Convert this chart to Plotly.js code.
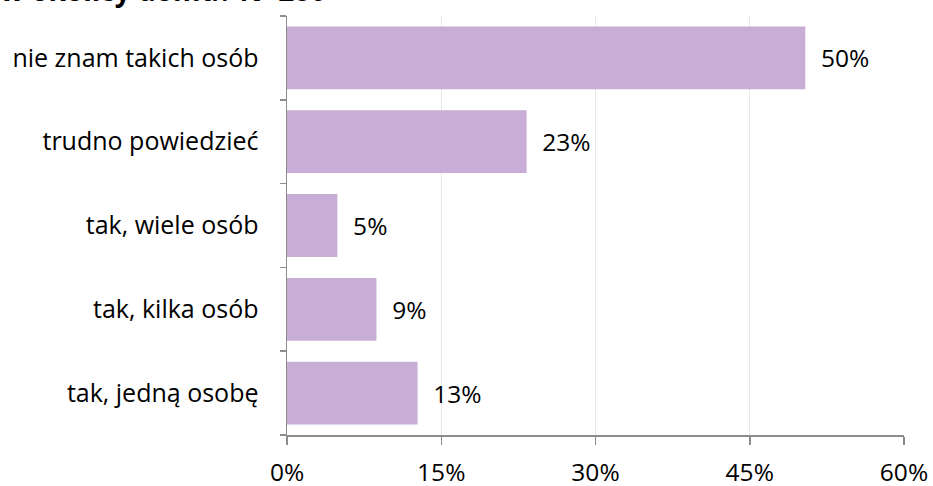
<!DOCTYPE html>
<html>
<head>
<meta charset="utf-8">
<script src="https://cdn.plot.ly/plotly-3.0.1.min.js"></script>
<style>html,body{margin:0;padding:0;background:#fff;}#chart{width:933px;height:486px;}</style>
</head>
<body>
<div id="chart"></div>
<script>
const categories = ["tak, jedną osobę", "tak, kilka osób", "tak, wiele osób", "trudno powiedzieć", "nie znam takich osób"];
const values = [12.7, 8.7, 4.9, 23.3, 50.4];
const labels = ["13%", "9%", "5%", "23%", "50%"];
const tickVals = [0, 15, 30, 45, 60];
const tickText = ["0%", "15%", "30%", "45%", "60%"];
const titleText = "w okolicy domu? N=280";

const FONT = "'Open Sans', sans-serif";
const FS = 24.5;

const trace = {
  type: "bar",
  orientation: "h",
  y: categories,
  x: values,
  marker: {color: "#c8aed6"},
  text: labels.map(t => "\u00a0\u00a0" + t),
  textposition: "outside",
  textfont: {family: FONT, size: FS, color: "#000"},
  cliponaxis: false,
  hoverinfo: "none"
};

const layout = {
  width: 933, height: 486,
  margin: {l: 287, r: 29, t: 16, b: 51},
  paper_bgcolor: "#fff", plot_bgcolor: "#fff",
  bargap: 0.25,
  showlegend: false,
  title: {
    text: "<b>" + titleText + "</b>",
    font: {family: FONT, size: 28, color: "#000"},
    xref: "container", yref: "container",
    x: 0, xanchor: "left",
    y: 0.999, yanchor: "bottom",
    pad: {t: 0, b: 0, l: 0, r: 0}
  },
  xaxis: {
    range: [0, 60],
    tickvals: tickVals, ticktext: tickText,
    showgrid: true, gridcolor: "#e8e8e8", gridwidth: 1,
    showline: true, linecolor: "#8c8c8c", linewidth: 1.5,
    ticks: "outside", ticklen: 8, tickcolor: "#8c8c8c", tickwidth: 1.5,
    tickfont: {family: FONT, size: FS, color: "#000"},
    ticklabelstandoff: 7,
    zeroline: false,
    fixedrange: true
  },
  yaxis: {
    type: "category",
    categoryorder: "array", categoryarray: categories,
    showline: true, linecolor: "#8c8c8c", linewidth: 1.5,
    ticks: "outside", ticklen: 6, tickcolor: "#8c8c8c", tickwidth: 1.5,
    tickson: "boundaries",
    showgrid: false,
    tickfont: {family: FONT, size: 25, color: "#000"},
    ticklabelstandoff: 22,
    fixedrange: true
  }
};

Plotly.newPlot("chart", [trace], layout, {displayModeBar: false, staticPlot: true});
</script>
</body>
</html>
